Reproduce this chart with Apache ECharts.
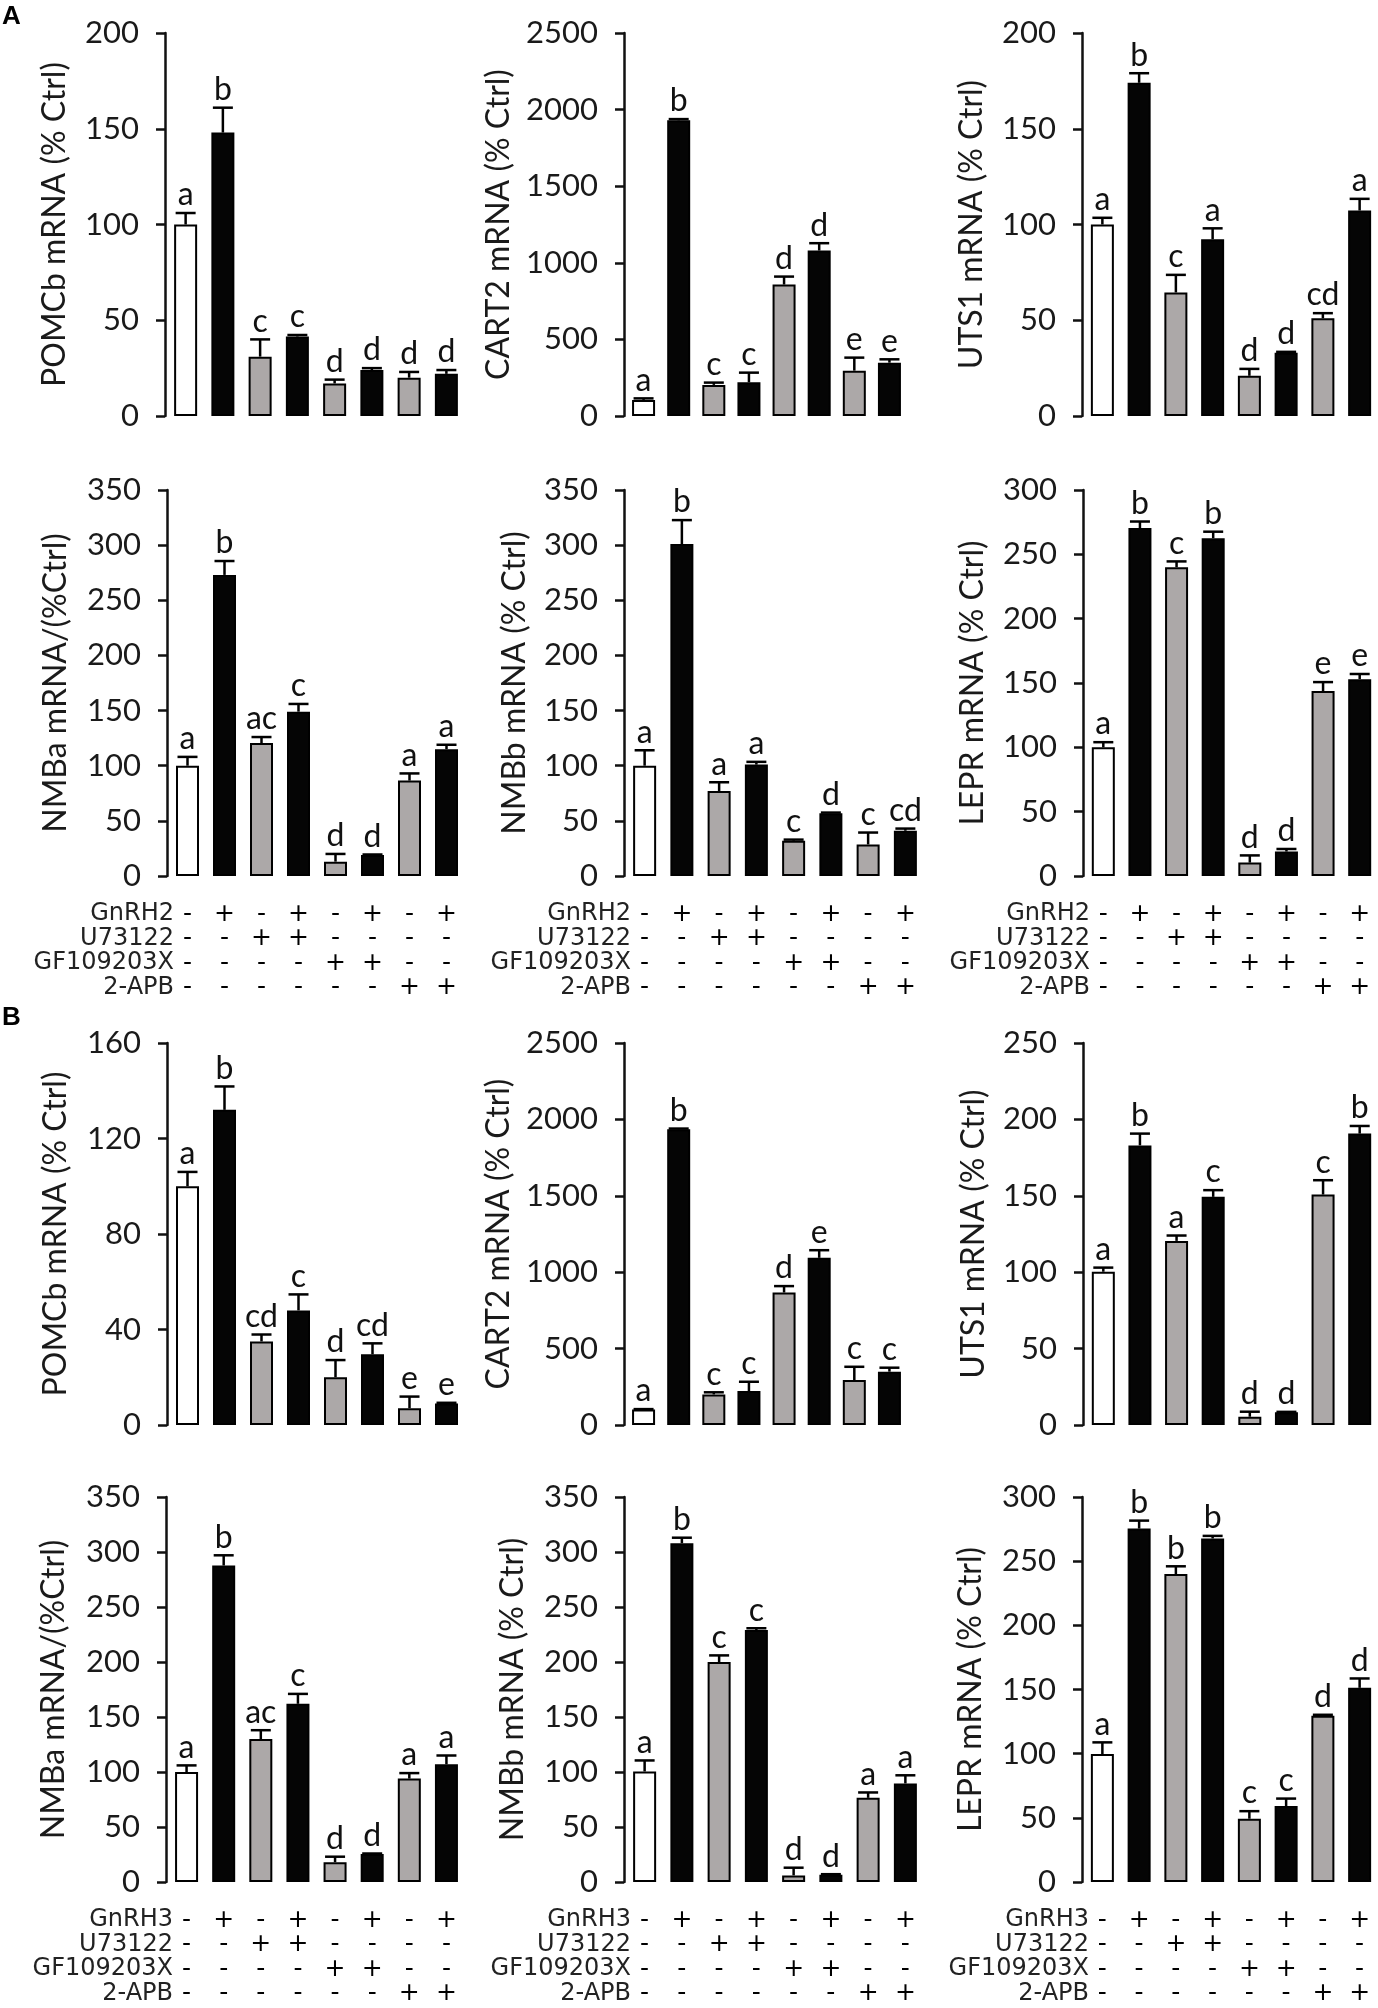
<!DOCTYPE html>
<html>
<head>
<meta charset="utf-8">
<title>GnRH2 / GnRH3 signalling blockers</title>
<script src="https://cdn.jsdelivr.net/npm/echarts@6.0.0/dist/echarts.min.js"></script>
<style>
  html, body { margin: 0; padding: 0; background: #fff; }
  #main { width: 1378px; height: 2008px; }
</style>
</head>
<body>
<div id="main"></div>
<script>
// treatment groups and the +/- table under the lower panels
var groups = ['Ctrl', 'GnRH', 'U73122', 'GnRH+U73122', 'GF109203X', 'GnRH+GF109203X', '2-APB', 'GnRH+2-APB'];
var gnrhRow   = ['-', '+', '-', '+', '-', '+', '-', '+'];
var u73122Row = ['-', '-', '+', '+', '-', '-', '-', '-'];
var gfRow     = ['-', '-', '-', '-', '+', '+', '-', '-'];
var apbRow    = ['-', '-', '-', '-', '-', '-', '+', '+'];

// A: GnRH2 (mean, SEM, letters)
var pomcbA = [100, 148, 31, 41.5, 17, 24, 20, 22];
var pomcbASem = [6, 13, 9, 0.8, 2, 1, 3, 2];
var pomcbAGrp = ['a', 'b', 'c', 'c', 'd', 'd', 'd', 'd'];
var cart2A = [105, 1930, 203, 220, 858, 1080, 296, 348];
var cart2ASem = [10, 8, 15, 63, 52, 48, 85, 22];
var cart2AGrp = ['a', 'b', 'c', 'c', 'd', 'd', 'e', 'e'];
var uts1A = [100, 174, 64.5, 92.3, 21, 33, 51, 107.3];
var uts1ASem = [3.5, 5, 9.2, 5.7, 3.6, 0.5, 2.7, 6.1];
var uts1AGrp = ['a', 'b', 'c', 'a', 'd', 'd', 'cd', 'a'];
var nmbaA = [100, 273, 120.5, 149, 13, 19, 86.5, 115];
var nmbaASem = [8, 12.6, 5.5, 7, 7, 0.5, 6.5, 4];
var nmbaAGrp = ['a', 'b', 'ac', 'c', 'd', 'd', 'a', 'a'];
var nmbbA = [100, 301, 77, 101, 32, 57, 28.6, 41];
var nmbbASem = [14, 21.7, 8, 2.5, 1, 0.5, 10.8, 2];
var nmbbAGrp = ['a', 'b', 'a', 'a', 'c', 'd', 'c', 'cd'];
var leprA = [100, 270.4, 240, 262.5, 10.4, 19, 143.7, 153];
var leprASem = [4, 5.1, 4.5, 5.1, 5.6, 2, 7, 4];
var leprAGrp = ['a', 'b', 'c', 'b', 'd', 'd', 'e', 'e'];

// B: GnRH3
var pomcbB = [100, 132, 35, 48, 20, 29.6, 7, 9];
var pomcbBSem = [6, 9.8, 2.9, 6.7, 7.2, 4.6, 4.9, 0.3];
var pomcbBGrp = ['a', 'b', 'cd', 'c', 'd', 'cd', 'e', 'e'];
var cart2B = [102, 1935, 200, 222, 867, 1094, 294, 349];
var cart2BSem = [2, 5, 14, 61, 42, 50, 87, 26];
var cart2BGrp = ['a', 'b', 'c', 'c', 'd', 'e', 'c', 'c'];
var uts1B = [100.3, 183, 120.5, 149.3, 5.4, 8.3, 150.8, 190.7];
var uts1BSem = [2.7, 7.7, 3.5, 4.4, 3.3, 0.3, 9.4, 5];
var uts1BGrp = ['a', 'b', 'a', 'c', 'd', 'd', 'c', 'b'];
var nmbaB = [100, 287.7, 130, 162, 18, 25.4, 94, 107];
var nmbaBSem = [6, 9.3, 8, 9, 5, 0.5, 5, 8];
var nmbaBGrp = ['a', 'b', 'ac', 'c', 'd', 'd', 'a', 'a'];
var nmbbB = [100.5, 308, 200, 229, 6, 6.6, 76.5, 89.6];
var nmbbBSem = [10, 5, 6, 1.7, 7, 0.5, 4.9, 7.4];
var nmbbBGrp = ['a', 'b', 'c', 'c', 'd', 'd', 'a', 'a'];
var leprB = [99.7, 275.4, 240, 267.7, 49.3, 59.2, 129.5, 151.3];
var leprBSem = [9.1, 6.2, 6, 2, 5.9, 5.8, 0.8, 7.3];
var leprBGrp = ['a', 'b', 'b', 'b', 'c', 'c', 'd', 'd'];

var rowNamesA = ['GnRH2', 'U73122', 'GF109203X', '2-APB'];
var rowNamesB = ['GnRH3', 'U73122', 'GF109203X', '2-APB'];

// layout
var rows = [
  { top: 33, h: 383 },
  { top: 490, h: 386 },
  { top: 1043, h: 382 },
  { top: 1497, h: 385 }
];
var barFill = ['#ffffff', '#050505', '#aca8a8', '#050505', '#aca8a8', '#050505', '#aca8a8', '#050505'];
var tickFont = 'Lato';
var tableFont = 'DejaVu Sans';
var lineH = 24.5;

var panels = [
  { row: 0, left: 167, width: 298, max: 200, step: 50, gap: 94, name: 'POMCb mRNA (% Ctrl)', mean: pomcbA, sem: pomcbASem, grp: pomcbAGrp },
  { row: 0, left: 626, width: 281, max: 2500, step: 500, gap: 109, name: 'CART2 mRNA (% Ctrl)', mean: cart2A, sem: cart2ASem, grp: cart2AGrp },
  { row: 0, left: 1084, width: 297, max: 200, step: 50, gap: 94, name: 'UTS1 mRNA (% Ctrl)', mean: uts1A, sem: uts1ASem, grp: uts1AGrp },
  { row: 1, left: 169, width: 296, max: 350, step: 50, gap: 95, name: 'NMBa mRNA/(%Ctrl)', mean: nmbaA, sem: nmbaASem, grp: nmbaAGrp, table: rowNamesA },
  { row: 1, left: 626, width: 298, max: 350, step: 50, gap: 93, name: 'NMBb mRNA (% Ctrl)', mean: nmbbA, sem: nmbbASem, grp: nmbbAGrp, table: rowNamesA },
  { row: 1, left: 1085, width: 296, max: 300, step: 50, gap: 94, name: 'LEPR mRNA (% Ctrl)', mean: leprA, sem: leprASem, grp: leprAGrp, table: rowNamesA },
  { row: 2, left: 169, width: 296, max: 160, step: 40, gap: 95, name: 'POMCb mRNA (% Ctrl)', mean: pomcbB, sem: pomcbBSem, grp: pomcbBGrp },
  { row: 2, left: 626, width: 281, max: 2500, step: 500, gap: 109, name: 'CART2 mRNA (% Ctrl)', mean: cart2B, sem: cart2BSem, grp: cart2BGrp },
  { row: 2, left: 1085, width: 296, max: 250, step: 50, gap: 93, name: 'UTS1 mRNA (% Ctrl)', mean: uts1B, sem: uts1BSem, grp: uts1BGrp },
  { row: 3, left: 168, width: 297, max: 350, step: 50, gap: 96, name: 'NMBa mRNA/(%Ctrl)', mean: nmbaB, sem: nmbaBSem, grp: nmbaBGrp, table: rowNamesB },
  { row: 3, left: 626, width: 298, max: 350, step: 50, gap: 95, name: 'NMBb mRNA (% Ctrl)', mean: nmbbB, sem: nmbbBSem, grp: nmbbBGrp, table: rowNamesB },
  { row: 3, left: 1084, width: 296, max: 300, step: 50, gap: 95, name: 'LEPR mRNA (% Ctrl)', mean: leprB, sem: leprBSem, grp: leprBGrp, table: rowNamesB }
];

var grids = [], xAxes = [], yAxes = [], series = [];
var graphics = [
  { type: 'text', x: 2, y: 4, style: { text: 'A', fontFamily: 'Liberation Sans', fontWeight: 'bold', fontSize: 26, fill: '#000' } },
  { type: 'text', x: 2, y: 1005, style: { text: 'B', fontFamily: 'Liberation Sans', fontWeight: 'bold', fontSize: 26, fill: '#000' } }
];

panels.forEach(function (p, i) {
  var r = rows[p.row];
  grids.push({ left: p.left, top: r.top, width: p.width, height: r.h, containLabel: false });

  xAxes.push({
    type: 'category', gridIndex: i, data: groups,
    axisLine: { show: false }, axisTick: { show: false },
    axisLabel: {
      show: !!p.table, interval: 0, margin: 26,
      fontFamily: tableFont, fontSize: 25, color: '#000', lineHeight: lineH,
      formatter: function (v, k) {
        return [gnrhRow[k], u73122Row[k], gfRow[k], apbRow[k]].join('\n');
      }
    }
  });

  yAxes.push({
    type: 'value', gridIndex: i, min: 0, max: p.max, interval: p.step, offset: 2,
    name: p.name, nameLocation: 'middle', nameGap: p.gap,
    nameTextStyle: { fontFamily: tickFont, fontSize: 32, color: '#1a1a1a' },
    axisLine: { show: true, lineStyle: { color: '#111', width: 2.5 } },
    axisTick: { show: true, inside: false, length: 9, lineStyle: { color: '#111', width: 2.5 } },
    axisLabel: {
      fontFamily: tickFont, fontSize: 31, color: '#1a1a1a', margin: 26,
      formatter: function (v) { return String(v); }
    },
    splitLine: { show: false }
  });

  series.push({
    type: 'bar', xAxisIndex: i, yAxisIndex: i, barWidth: 23, silent: true,
    data: p.mean.map(function (v, k) {
      return { value: v, itemStyle: { color: barFill[k], borderColor: '#000', borderWidth: 2 } };
    })
  });

  var letters = p.grp;
  series.push({
    type: 'custom', xAxisIndex: i, yAxisIndex: i, silent: true, z: 5,
    data: p.mean.map(function (v, k) { return [k, v, v + p.sem[k]]; }),
    encode: { x: 0, y: [1, 2] },
    renderItem: function (params, api) {
      var base = api.coord([api.value(0), api.value(1)]);
      var top = api.coord([api.value(0), api.value(2)]);
      var half = 10;
      return {
        type: 'group',
        children: [
          { type: 'line', shape: { x1: base[0], y1: base[1], x2: top[0], y2: top[1] }, style: { stroke: '#000', lineWidth: 2.5 } },
          { type: 'line', shape: { x1: top[0] - half, y1: top[1], x2: top[0] + half, y2: top[1] }, style: { stroke: '#000', lineWidth: 2.5 } },
          { type: 'text', style: { text: letters[params.dataIndex], x: top[0], y: top[1] - 2, align: 'center', verticalAlign: 'bottom', fontFamily: tickFont, fontSize: 32, fill: '#111' } }
        ]
      };
    }
  });

  if (p.table) {
    var y0 = r.top + r.h;
    p.table.forEach(function (t, k) {
      graphics.push({
        type: 'text', x: p.left + 5, y: y0 + 26 + lineH * (k + 0.5),
        style: { text: t, align: 'right', verticalAlign: 'middle', fontFamily: tableFont, fontSize: 24, fill: '#222' }
      });
    });
  }
});

var chart = echarts.init(document.getElementById('main'));
chart.setOption({
  backgroundColor: '#ffffff',
  animation: false,
  grid: grids,
  xAxis: xAxes,
  yAxis: yAxes,
  series: series,
  graphic: graphics
});
</script>
</body>
</html>
